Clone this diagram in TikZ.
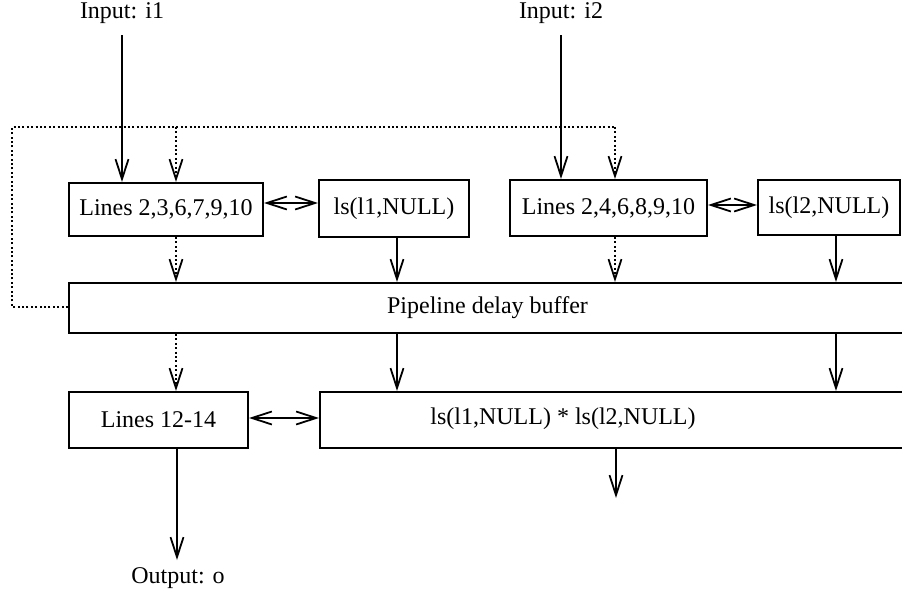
\documentclass[tikz,border=0pt]{standalone}
\usepackage{fontspec}
\setmainfont{Liberation Serif}
\usetikzlibrary{arrows.meta}

\tikzset{
  blk/.style={draw, line width=1pt, rectangle, inner sep=0pt, font=\fontsize{12}{14}\selectfont},
  lbl/.style={inner sep=0pt, font=\fontsize{12}{14}\selectfont},
  flow/.style={line width=0.9pt, -{Straight Barb[length=10pt,width=6.5pt,line width=0.9pt]}},
  both/.style={line width=0.9pt, {Straight Barb[length=10pt,width=6.5pt,line width=0.9pt]}-{Straight Barb[length=10pt,width=6.5pt,line width=0.9pt]}},
  ctl/.style={flow, dash pattern=on 1pt off 1.2pt},
  ctlline/.style={line width=1pt, dash pattern=on 1pt off 1.2pt}
}

\begin{document}
\begin{tikzpicture}[x=0.5pt, y=-0.5pt]
  \useasboundingbox (0,0) rectangle (902,594);
  \clip (0,0) rectangle (902,594);

  % inputs and output
  \node[lbl] (in1) at (122,13) {Input: i1};
  \node[lbl] (in2) at (561,13) {Input: i2};
  \node[lbl] (out) at (178,578) {Output: o};

  % first stage (sizes in pt: half the coordinate units)
  \node[blk, minimum width=97pt, minimum height=26.5pt] (A) at (166,209.5) {Lines 2,3,6,7,9,10};
  \node[blk, minimum width=75pt, minimum height=28.5pt] (B) at (394,208.5) {ls(l1,NULL)};
  \node[blk, minimum width=98.5pt, minimum height=28pt] (C) at (608.5,208) {Lines 2,4,6,8,9,10};
  \node[blk, minimum width=71pt, minimum height=27.5pt] (D) at (829,207.5) {ls(l2,NULL)};

  % pipeline buffer (runs past the right edge)
  \node[blk, minimum width=418.5pt, minimum height=25pt] (P) at (487.5,308) {Pipeline delay buffer};

  % last stage
  \node[blk, minimum width=310pt, minimum height=28pt] (F) at (630,420) {};
  \node[blk, minimum width=89.5pt, minimum height=28pt] (E) at (158.5,420) {Lines 12-14};
  \node[lbl] (Ft) at (563,419) {ls(l1,NULL) * ls(l2,NULL)};

  % free ends and routing points
  \coordinate (res) at (616,498);
  \coordinate (oend) at (177,560);
  \coordinate (fbL) at (12,127);
  \coordinate (fbR) at (615,127);
  \coordinate (fbA) at (176,127);
  \coordinate (fbB) at (12,307);

  % inputs
  \draw[flow] (in1.south |- 0,35) -- (A.north -| 122,0);
  \draw[flow] (in2.south |- 0,35) -- (C.north -| 561,0);

  % feedback from the buffer
  \draw[ctlline] (P.west |- fbB) -- (fbB) -- (fbL) -- (fbR);
  \draw[ctl] (fbR) -- (C.north -| fbR);
  \draw[ctl] (fbA) -- (A.north -| fbA);

  % side links
  \draw[both] (A.east |- 0,203) -- (B.west |- 0,203);
  \draw[both] (C.east |- 0,205) -- (D.west |- 0,205);
  \draw[both] (E.east |- 0,418) -- (F.west |- 0,418);

  % into the buffer
  \draw[ctl] (A.south -| 176,0) -- (P.north -| 176,0);
  \draw[flow] (B.south -| 397,0) -- (P.north -| 397,0);
  \draw[ctl] (C.south -| 615,0) -- (P.north -| 615,0);
  \draw[flow] (D.south -| 836,0) -- (P.north -| 836,0);

  % out of the buffer
  \draw[ctl] (P.south -| 176,0) -- (E.north -| 176,0);
  \draw[flow] (P.south -| 397,0) -- (F.north -| 397,0);
  \draw[flow] (P.south -| 836,0) -- (F.north -| 836,0);

  % results
  \draw[flow] (F.south -| res) -- (res);
  \draw[flow] (E.south -| oend) -- (oend);
\end{tikzpicture}
\end{document}
